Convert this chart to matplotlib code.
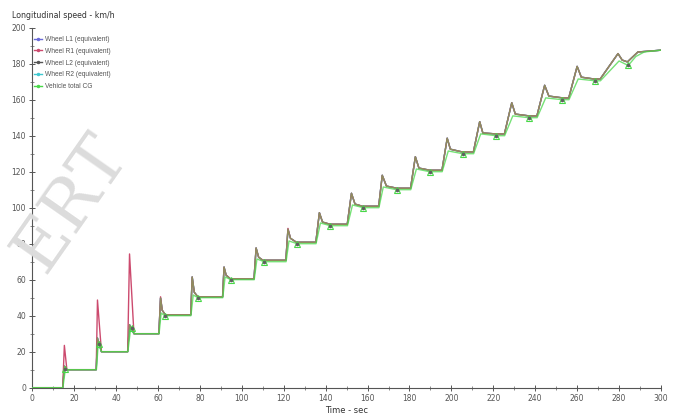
import matplotlib
matplotlib.use("Agg")
import matplotlib.pyplot as plt
from matplotlib.lines import Line2D

# ---------------- data ----------------
wheel_time = [0,
              14.5, 15.3, 16.5,
              30.5, 31.1, 33.0,
              45.5, 46.4, 48.5,
              60.4, 61.2, 62.0, 63.5,
              75.6, 76.3, 77.3, 79.0,
              90.8, 91.5, 92.5, 94.5,
              105.8, 106.8, 108.0, 110.0,
              121.0, 122.0, 123.2, 126.0,
              135.3, 137.0, 138.5, 142.0,
              150.3, 152.3, 154.0, 157.5,
              165.3, 167.0, 169.0, 174.0,
              180.5, 182.8, 184.5, 189.7,
              195.5, 198.0, 199.5, 205.0,
              210.5, 213.5, 215.0, 221.0,
              225.3, 228.8, 230.5, 237.0,
              240.8, 244.5, 246.5, 253.0,
              256.0, 260.0, 262.0, 268.0,
              271.0, 279.5, 281.5, 284.0,
              289.0, 300.0]

wheel_L2 = [0,
            0, 12, 10,
            10, 27.6, 20,
            20, 35, 30,
            30, 49.8, 43, 40.5,
            40.5, 61.5, 53, 50.5,
            50.5, 67, 62.5, 60.5,
            60.5, 77.6, 72.5, 70.8,
            70.8, 88, 83, 80.8,
            80.8, 97.2, 92, 90.8,
            90.8, 108, 102, 100.8,
            100.8, 118, 112, 110.8,
            110.8, 128.3, 122, 120.8,
            120.8, 138.6, 132.5, 131,
            131, 147.8, 141.5, 141,
            141, 158.3, 152, 151,
            151, 168, 162, 161,
            161, 178.5, 172.5, 171.5,
            171.5, 185.6, 182, 181,
            186.5, 187.5]

wheel_R1 = [0,
            0, 23.5, 10,
            10, 48.7, 20,
            20, 74.3, 30,
            30, 50.5, 43, 40.5,
            40.5, 61.5, 53, 50.5,
            50.5, 67, 62.5, 60.5,
            60.5, 77.6, 72.5, 70.8,
            70.8, 88.5, 83, 80.8,
            80.8, 97.2, 92, 90.8,
            90.8, 108, 102, 100.8,
            100.8, 118, 112, 110.8,
            110.8, 128.3, 122, 120.8,
            120.8, 138.6, 132.5, 131,
            131, 147.8, 141.5, 141,
            141, 158.3, 152, 151,
            151, 168, 162, 161,
            161, 178.5, 172.5, 171.5,
            171.5, 185.6, 182, 181,
            186.5, 187.5]

cg_time = [0,
           14.6, 15.8, 16.8,
           30.6, 31.5, 33.0,
           45.6, 47.0, 48.5,
           60.5, 61.5, 63.2,
           75.7, 76.8, 79.0,
           90.9, 92.0, 94.8,
           105.9, 107.2, 110.6,
           121.1, 122.5, 126.4,
           135.4, 137.5, 142.2,
           150.4, 152.8, 158.0,
           165.4, 167.5, 173.8,
           180.6, 183.3, 189.6,
           195.6, 198.5, 205.4,
           210.6, 214.0, 221.2,
           225.4, 229.3, 237.0,
           240.9, 245.0, 252.8,
           256.1, 260.5, 268.6,
           271.1, 280.0, 284.4,
           288.0, 292.0, 300.0]

cg_speed = [0,
            0, 10.5, 10,
            10, 25, 20,
            20, 33.5, 30,
            30, 41.5, 40,
            40, 51.5, 50,
            50, 61.5, 60,
            60, 71.5, 70,
            70, 81.5, 80,
            80, 91.5, 90,
            90, 101.5, 100,
            100, 111.5, 110,
            110, 121.5, 120,
            120, 131.5, 130,
            130, 141, 140,
            140, 151, 150,
            150, 161, 160,
            160, 171.5, 170.5,
            170.5, 181.5, 179,
            184, 186.5, 187.5]

marker_time = [15.8, 31.6, 47.4, 63.2, 79.0, 94.8, 110.6, 126.4, 142.2,
               158.0, 173.8, 189.6, 205.4, 221.2, 237.0, 252.8, 268.6, 284.4]
marker_speed = [10.5, 24.5, 33.0, 40, 50, 60, 70, 80, 90,
                100, 110, 120, 130, 140, 150, 160, 170.5, 179]

series_labels = ["Wheel L1 (equivalent)", "Wheel R1 (equivalent)",
                 "Wheel L2 (equivalent)", "Wheel R2 (equivalent)",
                 "Vehicle total CG"]
series_colors = ["#6a6ad8", "#cc4a6e", "#555555", "#40c8d0", "#48d848"]

x_ticks = list(range(0, 301, 20))
y_ticks = list(range(0, 201, 20))

# ---------------- figure ----------------
fig = plt.figure(figsize=(6.8, 4.17), dpi=100)
ax = fig.add_axes([0.0475, 0.0703, 0.9245, 0.8633])

# watermark (kept fully inside the figure)
fig.text(44 / 680, 1 - 275 / 417, "ERT", rotation=55, rotation_mode="anchor",
         ha="left", va="baseline", fontsize=50, color="#dcdcdc",
         family="DejaVu Serif", zorder=0)
ax.set_facecolor("none")

lw = 1.0
ax.plot(wheel_time, wheel_L2, color=series_colors[0], lw=lw, zorder=2)
ax.plot(wheel_time, wheel_L2, color=series_colors[3], lw=lw, zorder=2)
ax.plot(wheel_time, wheel_R1, color=series_colors[1], lw=lw, zorder=3)
ax.plot(wheel_time, wheel_L2, color="#8e8e5e", lw=lw, zorder=4)
ax.plot(cg_time, cg_speed, color=series_colors[4], lw=lw, zorder=5,
        alpha=0.75)
ax.plot(marker_time, marker_speed, ls="none", marker="^", ms=4,
        mfc="none", mec=series_colors[4], mew=0.8, zorder=6)
ax.plot(marker_time, marker_speed, ls="none", marker="o", ms=1.6,
        color="#606060", zorder=6)

ax.set_xlim(0, 300)
ax.set_ylim(0, 200)
ax.set_xticks(x_ticks)
ax.set_yticks(y_ticks)
ax.set_xticks(list(range(10, 300, 20)), minor=True)
ax.set_yticks(list(range(10, 200, 20)), minor=True)
ax.tick_params(which="major", direction="inout", length=5, width=0.7,
               labelsize=5.5, colors="#555555", pad=2)
ax.tick_params(which="minor", direction="inout", length=3, width=0.6,
               colors="#777777")
for s in ["top", "right"]:
    ax.spines[s].set_visible(False)
for s in ["left", "bottom"]:
    ax.spines[s].set_color("#555555")
    ax.spines[s].set_linewidth(0.8)

ax.set_xlabel("Time - sec", fontsize=6, color="#333333", labelpad=2)
fig.text(12 / 680, 0.962, "Longitudinal speed - km/h", fontsize=5.7,
         color="#333333", ha="left", va="center")

handles = [Line2D([], [], color=c, lw=1, marker=".", ms=3)
           for c in series_colors]
leg = ax.legend(handles, series_labels, loc="upper left",
                bbox_to_anchor=(-0.005, 0.99), frameon=False,
                prop={"family": "Liberation Sans", "size": 4.8},
                handlelength=1.2, handletextpad=0.5, labelspacing=0.72,
                borderaxespad=0.3)
for t in leg.get_texts():
    t.set_color("#555555")

fig.savefig("out.png", dpi=100)
